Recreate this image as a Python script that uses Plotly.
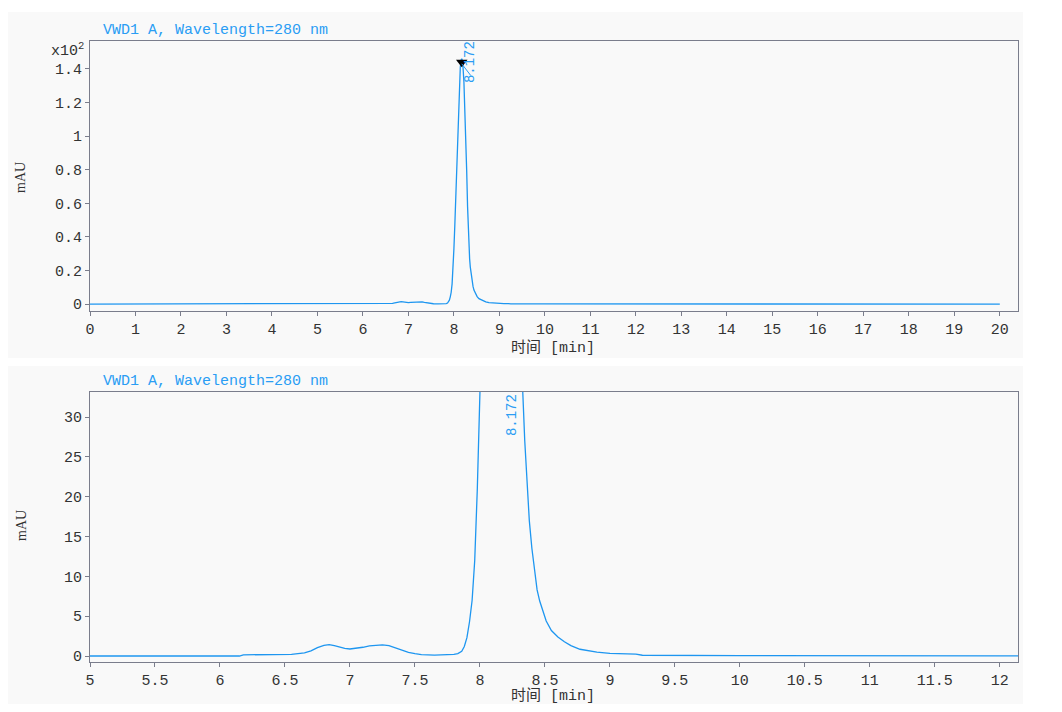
import plotly.graph_objects as go

# ---- data ----
time_min = [0.0, 2.0, 4.0, 6.0, 6.15, 6.18, 6.3, 6.45, 6.5, 6.52, 6.55, 6.6, 6.65, 6.7, 6.75,
            6.8, 6.84, 6.88, 6.92, 6.96, 7.0, 7.05, 7.1, 7.15, 7.2, 7.25, 7.3, 7.35, 7.4,
            7.45, 7.5, 7.55, 7.65, 7.75, 7.8, 7.83, 7.86, 7.88, 7.9, 7.92, 7.94, 7.96, 7.98,
            8.0, 8.02, 8.04, 8.06, 8.08, 8.1, 8.12, 8.14, 8.16, 8.172, 8.18, 8.2, 8.22, 8.24,
            8.26, 8.28, 8.3, 8.33, 8.345, 8.36, 8.38, 8.4, 8.42, 8.44, 8.46, 8.48, 8.51, 8.55,
            8.6, 8.65, 8.7, 8.77, 8.9, 9.0, 9.1, 9.2, 9.25, 10.0, 12.0, 15.0, 20.0]
signal_mau = [0.0, 0.0, 0.0, 0.0, 0.0, 0.15, 0.15, 0.2, 0.22, 0.15, 0.2, 0.3, 0.4, 0.65, 1.05,
              1.33, 1.42, 1.3, 1.1, 0.95, 0.88, 0.95, 1.1, 1.28, 1.38, 1.4, 1.3, 1.0, 0.7,
              0.45, 0.3, 0.18, 0.12, 0.12, 0.2, 0.3, 0.6, 1.2, 2.3, 4.3, 7.0, 12.0, 21.0,
              33.0, 47.0, 63.0, 82.0, 101.0, 118.0, 132.0, 141.0, 145.5, 146.0, 145.5, 141.0, 132.0, 118.0,
              100.0, 80.0, 58.0, 33.0, 27.0, 22.0, 17.0, 13.5, 10.5, 8.3, 6.9, 5.8, 4.4, 3.2,
              2.4, 1.8, 1.3, 0.85, 0.5, 0.33, 0.28, 0.25, 0.1, 0.05, 0.02, 0.0, 0.0]

peak_time = 8.172
peak_height = 146.0
peak_label = "8.172"
signal_name = "VWD1 A, Wavelength=280 nm"

top_yticks = [0, 20, 40, 60, 80, 100, 120, 140]
top_yticktext = ["0", "0.2", "0.4", "0.6", "0.8", "1", "1.2", "1.4"]
top_xticks = list(range(0, 21))
bot_xticks = [5, 5.5, 6, 6.5, 7, 7.5, 8, 8.5, 9, 9.5, 10, 10.5, 11, 11.5, 12]
bot_xticktext = ["5", "5.5", "6", "6.5", "7", "7.5", "8", "8.5", "9", "9.5", "10", "10.5", "11", "11.5", "12"]
bot_yticks = [0, 5, 10, 15, 20, 25, 30]

# ---- style / layout (page has an 8px body margin) ----
OFF = 8
W, H = 1062 - 2 * OFF, 712 - 2 * OFF


def fx(px):
    return (px - OFF) / W


def fy(py):
    return 1 - (py - OFF) / H


LINE = "#1e96f0"
TXT_BLUE = "#2a9df4"
AX = "#7a7d8c"
FONT = "Liberation Mono"
TICKFONT = dict(family=FONT, size=15, color="#333333")

top_dom = [fy(311), fy(41)]
bot_dom = [fy(662), fy(392)]
x_dom = [fx(90), fx(1018)]

fig = go.Figure()
fig.add_trace(go.Scatter(x=time_min, y=signal_mau, mode="lines", xaxis="x", yaxis="y",
                         line=dict(color=LINE, width=1.3), showlegend=False, hoverinfo="skip"))
fig.add_trace(go.Scatter(x=time_min, y=signal_mau, mode="lines", xaxis="x2", yaxis="y2",
                         line=dict(color=LINE, width=1.3), showlegend=False, hoverinfo="skip"))
fig.add_trace(go.Scatter(x=[peak_time], y=[peak_height - 2], mode="markers", xaxis="x", yaxis="y",
                         marker=dict(symbol="triangle-down", size=10, color="black"),
                         showlegend=False, hoverinfo="skip"))

axis_common = dict(showline=True, linecolor=AX, linewidth=1, mirror=True, ticks="outside",
                   ticklen=4, tickcolor=AX, showgrid=False, zeroline=False, tickfont=TICKFONT,
                   automargin=False)

fig.update_layout(
    template="none",
    width=W, height=H,
    margin=dict(l=0, r=0, t=0, b=0),
    paper_bgcolor="white",
    plot_bgcolor="#fdfdfd",
    xaxis=dict(domain=x_dom, anchor="y", range=[0, 20.4], tickvals=top_xticks, **axis_common),
    yaxis=dict(domain=top_dom, anchor="x", range=[-4.15, 156.6], tickvals=top_yticks,
               ticktext=top_yticktext, **axis_common),
    xaxis2=dict(domain=x_dom, anchor="y2", range=[5, 12.14], tickvals=bot_xticks,
                ticktext=bot_xticktext, **axis_common),
    yaxis2=dict(domain=bot_dom, anchor="x2", range=[-0.75, 33.14], tickvals=bot_yticks, **axis_common),
)

# panel backgrounds
fig.add_shape(type="rect", xref="paper", yref="paper", x0=fx(8), x1=fx(1023),
              y0=fy(358), y1=fy(12), fillcolor="#f9f9f9", line_width=0, layer="below")
fig.add_shape(type="rect", xref="paper", yref="paper", x0=fx(8), x1=fx(1023),
              y0=0, y1=fy(366), fillcolor="#f9f9f9", line_width=0, layer="below")

# titles
for ytop in (30, 381):
    fig.add_annotation(xref="paper", yref="paper", x=fx(101), y=fy(ytop), text=signal_name,
                       showarrow=False, xanchor="left", yanchor="middle",
                       font=dict(family=FONT, size=15, color=TXT_BLUE))
for yc in (348, 696):
    fig.add_annotation(xref="paper", yref="paper", x=fx(553), y=fy(yc), text="时间 [min]",
                       showarrow=False, xanchor="center", yanchor="middle",
                       font=dict(family="Liberation Mono, Noto Sans CJK SC", size=15, color="#333333"))
for yc in (178, 526):
    fig.add_annotation(xref="paper", yref="paper", x=fx(21), y=fy(yc), text="mAU",
                       showarrow=False, textangle=-90, xanchor="center", yanchor="middle",
                       font=dict(family="Liberation Serif", size=14, color="#333333"))
fig.add_annotation(xref="paper", yref="paper", x=fx(86), y=fy(50), text="x10<sup>2</sup>",
                   showarrow=False, xanchor="right", yanchor="middle",
                   font=dict(family=FONT, size=15, color="#333333"))

# peak labels
fig.add_annotation(xref="x", yref="y", x=peak_time + 0.18, y=144, text=peak_label,
                   showarrow=False, textangle=-90, xanchor="center", yanchor="middle",
                   font=dict(family=FONT, size=14, color=TXT_BLUE))
fig.add_shape(type="line", xref="x", yref="y", x0=peak_time, y0=peak_height - 3,
              x1=peak_time + 0.2, y1=peak_height - 10, line=dict(color=TXT_BLUE, width=1))
fig.add_annotation(xref="x2", yref="y2", x=peak_time + 0.08, y=30.2, text=peak_label,
                   showarrow=False, textangle=-90, xanchor="center", yanchor="middle",
                   font=dict(family=FONT, size=14, color=TXT_BLUE))

fig.write_html("out.html")
